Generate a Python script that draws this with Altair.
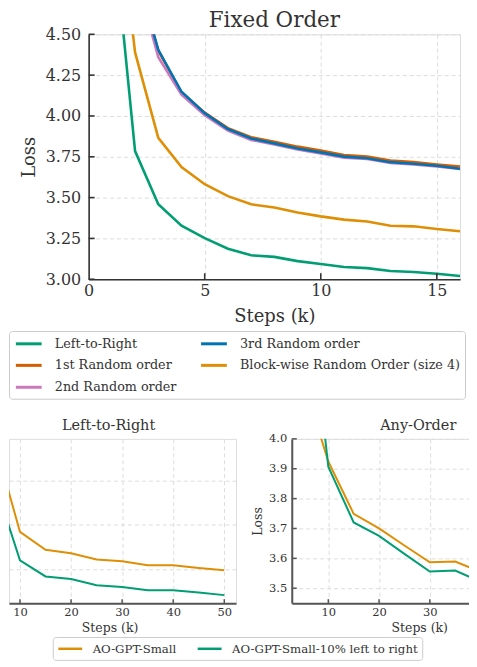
import altair as alt
import pandas as pd

FONT = "DejaVu Serif"
TXT = "#333333"

# ---------------- Top panel: Fixed Order ----------------
top_steps = list(range(1, 17))
top_series = ["Left-to-Right", "1st Random order", "2nd Random order",
              "3rd Random order", "Block-wise Random Order (size 4)"]
top_colors = ["#029E73", "#D55E00", "#CC78BC", "#0173B2", "#DE8F05"]
loss_l2r = [5.22, 3.785, 3.459, 3.328, 3.252, 3.187, 3.147, 3.137, 3.111, 3.093,
            3.075, 3.068, 3.050, 3.044, 3.034, 3.020]
loss_r1 = [6.0, 4.90, 4.400, 4.145, 4.020, 3.925, 3.870, 3.842, 3.812, 3.789,
           3.761, 3.751, 3.727, 3.717, 3.703, 3.690]
loss_r2 = [6.0, 4.88, 4.360, 4.130, 4.005, 3.910, 3.853, 3.826, 3.795, 3.770,
           3.745, 3.736, 3.712, 3.703, 3.690, 3.675]
loss_r3 = [6.0, 4.90, 4.405, 4.148, 4.017, 3.920, 3.862, 3.832, 3.801, 3.777,
           3.751, 3.741, 3.717, 3.707, 3.695, 3.677]
loss_block = [5.62, 4.389, 3.866, 3.687, 3.582, 3.509, 3.459, 3.439, 3.409, 3.385,
              3.365, 3.354, 3.328, 3.324, 3.308, 3.294]
top_loss = [loss_l2r, loss_r1, loss_r2, loss_r3, loss_block]
top_xticks = [0, 5, 10, 15]
top_yticks = [3.0, 3.25, 3.5, 3.75, 4.0, 4.25, 4.5]

# ---------------- Bottom panels ----------------
bot_series = ["AO-GPT-Small", "AO-GPT-Small-10% left to right"]
bot_colors = ["#DE8F05", "#029E73"]
ltr_steps = [5, 10, 15, 20, 25, 30, 35, 40, 45, 50]
ltr_small = [3.489, 3.284, 3.244, 3.236, 3.222, 3.218, 3.209, 3.209, 3.203, 3.198]
ltr_small10 = [3.398, 3.220, 3.184, 3.178, 3.164, 3.160, 3.153, 3.153, 3.148, 3.142]
any_steps = [5, 10, 15, 20, 25, 30, 35, 40]
any_small = [4.20, 3.924, 3.749, 3.700, 3.643, 3.587, 3.589, 3.555]
any_small10 = [4.68, 3.907, 3.720, 3.675, 3.615, 3.556, 3.559, 3.522]
ltr_xticks = [10, 20, 30, 40, 50]
ltr_yticks = [3.2, 3.3, 3.4]
any_xticks = [10, 20, 30]
any_yticks = [3.5, 3.6, 3.7, 3.8, 3.9, 4.0]

# ---------------- data frames ----------------
rows = []
for name, vals in zip(top_series, top_loss):
    for s, v in zip(top_steps, vals):
        rows.append({"series": name, "step": s, "loss": v})
df_top = pd.DataFrame(rows)


def long_df(steps, a, b):
    r = []
    for name, vals in zip(bot_series, [a, b]):
        for s, v in zip(steps, vals):
            r.append({"model": name, "step": s, "loss": v})
    return pd.DataFrame(r)


df_ltr = long_df(ltr_steps, ltr_small, ltr_small10)
df_any = long_df(any_steps, any_small, any_small10)

# ---------------- top chart ----------------
tx_scale = alt.Scale(domain=[0, 16], nice=False, zero=False)
ty_scale = alt.Scale(domain=[3.0, 4.5], nice=False, zero=False)
grid_kw = dict(grid=True, gridColor="#dcdcdc", gridDash=[4, 3], gridWidth=1)

top_x_axis = alt.Axis(values=top_xticks, title="Steps (k)", labelFont=FONT,
                      labelFontSize=16, labelColor=TXT, labelPadding=3,
                      labelFlush=False, titleFont=FONT, titleFontSize=18,
                      titleFontWeight="normal", titleColor=TXT, titlePadding=9,
                      domainColor=TXT, domainWidth=1.6, ticks=False, tickSize=0,
                      **grid_kw)
top_y_axis = alt.Axis(values=top_yticks, format=".2f", title="Loss", labelFont=FONT,
                      labelFontSize=16, labelColor=TXT, labelPadding=8,
                      titleFont=FONT, titleFontSize=18, titleFontWeight="normal",
                      titleColor=TXT, titlePadding=7, domainColor=TXT,
                      domainWidth=1.6, ticks=False, tickSize=0, **grid_kw)

TOP_W, TOP_H = 373, 246

top_lines = alt.Chart(df_top).mark_line(strokeWidth=2.6, clip=True).encode(
    x=alt.X("step:Q", scale=tx_scale, axis=top_x_axis),
    y=alt.Y("loss:Q", scale=ty_scale, axis=top_y_axis),
    color=alt.Color("series:N", sort=None,
                    scale=alt.Scale(domain=top_series, range=top_colors),
                    legend=alt.Legend(title=None, orient="none", legendX=-80,
                                      legendY=298, columns=2,
                                      symbolType="M-0.8,0L2.9,0",
                                      symbolSize=196, symbolStrokeWidth=3,
                                      labelFont=FONT, labelFontSize=12.8,
                                      labelColor=TXT, labelOffset=25,
                                      rowPadding=6, columnPadding=17, padding=4,
                                      strokeColor="#cccccc", cornerRadius=3,
                                      fillColor="white", labelLimit=400)),
    detail="series:N",
)
top_yt = alt.Chart(pd.DataFrame({"loss": top_yticks})).mark_rule(
    color=TXT, strokeWidth=1.6).encode(
    y=alt.Y("loss:Q", scale=ty_scale, axis=top_y_axis),
    x=alt.value(0), x2=alt.value(6))
top_xt = alt.Chart(pd.DataFrame({"step": top_xticks[1:]})).mark_rule(
    color=TXT, strokeWidth=1.6).encode(
    x=alt.X("step:Q", scale=tx_scale, axis=top_x_axis),
    y=alt.value(TOP_H), y2=alt.value(TOP_H - 6))

top = alt.layer(top_lines, top_yt, top_xt).properties(
    width=TOP_W, height=TOP_H,
    title=alt.Title("Fixed Order", font=FONT, fontSize=21.5, fontWeight="normal",
                    color=TXT, offset=0, dy=5.2, anchor="middle"))

# invisible spacer so the top plot starts 80px right of the bottom-left panel
spacer = alt.Chart(pd.DataFrame({"d": [0]})).mark_point(
    opacity=0, size=0, strokeWidth=0).encode(
    x=alt.value(0), y=alt.value(0)).properties(
    width=80, height=1, view=alt.ViewBackground(stroke=None, fill=None))

top_row = alt.hconcat(spacer, top, spacing=0, bounds="flush").resolve_scale(
    color="independent")

# ---------------- bottom panels ----------------
BOT_H = 165
AX2 = "#555555"


def bot_x_axis(vals, title_x):
    return alt.Axis(values=vals, title="Steps (k)", labelFont=FONT,
                    labelFontSize=11.5, labelColor=TXT, labelPadding=3,
                    labelFlush=False, titleFont=FONT, titleFontSize=12.5,
                    titleFontWeight="normal", titleColor=TXT, titlePadding=4,
                    titleX=title_x, titleAlign="center",
                    domainColor=AX2, domainWidth=2, ticks=False, tickSize=0,
                    grid=True, gridColor="#dddddd", gridDash=[4, 3], gridWidth=1)


# left panel (Left-to-Right)
LW = 228
lx_scale = alt.Scale(domain=[7.85, 52.3], nice=False, zero=False)
ly_scale = alt.Scale(domain=[3.124, 3.493], nice=False, zero=False)
lx_axis = bot_x_axis(ltr_xticks, 101)
ly_axis = alt.Axis(values=ltr_yticks, labels=False, ticks=False, tickSize=0,
                   domain=False, title=None, grid=True, gridColor="#dddddd",
                   gridDash=[4, 3], gridWidth=1)
bot_legend = alt.Legend(title=None, orient="none", legendX=44, legendY=199,
                        direction="horizontal", symbolType="M-1,0L3,0",
                        symbolSize=144, symbolStrokeWidth=2.5, labelFont=FONT,
                        labelFontSize=11.8, labelColor=TXT, labelOffset=21,
                        columnPadding=15, padding=4, strokeColor="#cccccc",
                        cornerRadius=3, fillColor="white", labelLimit=400)
left_lines = alt.Chart(df_ltr).mark_line(strokeWidth=2, clip=True).encode(
    x=alt.X("step:Q", scale=lx_scale, axis=lx_axis),
    y=alt.Y("loss:Q", scale=ly_scale, axis=ly_axis),
    color=alt.Color("model:N", sort=None,
                    scale=alt.Scale(domain=bot_series, range=bot_colors),
                    legend=bot_legend),
    detail="model:N",
)
left_xt = alt.Chart(pd.DataFrame({"step": ltr_xticks})).mark_rule(
    color=AX2, strokeWidth=1.5).encode(
    x=alt.X("step:Q", scale=lx_scale, axis=lx_axis),
    y=alt.value(BOT_H), y2=alt.value(BOT_H - 4))
left = alt.layer(left_lines, left_xt).properties(
    width=LW, height=BOT_H,
    title=alt.Title("Left-to-Right", font=FONT, fontSize=14.5, fontWeight="normal",
                    color=TXT, offset=5, anchor="middle", dx=-14))

# right panel (Any-Order)
RW = 185
rx_scale = alt.Scale(domain=[2.8, 39.1], nice=False, zero=False)
ry_scale = alt.Scale(domain=[3.45, 4.0], nice=False, zero=False)
rx_axis = bot_x_axis(any_xticks, 128)
ry_axis = alt.Axis(values=any_yticks, format=".1f", title="Loss", labelFont=FONT,
                   labelFontSize=11.5, labelColor=TXT, labelPadding=5,
                   titleFont=FONT, titleFontSize=12.5, titleFontWeight="normal",
                   titleColor=TXT, titlePadding=4, domainColor=AX2, domainWidth=2,
                   ticks=False, tickSize=0, grid=True, gridColor="#dddddd",
                   gridDash=[4, 3], gridWidth=1)
right_lines = alt.Chart(df_any).mark_line(strokeWidth=2, clip=True).encode(
    x=alt.X("step:Q", scale=rx_scale, axis=rx_axis),
    y=alt.Y("loss:Q", scale=ry_scale, axis=ry_axis),
    color=alt.Color("model:N", sort=None,
                    scale=alt.Scale(domain=bot_series, range=bot_colors),
                    legend=None),
    detail="model:N",
)
right_xt = alt.Chart(pd.DataFrame({"step": any_xticks})).mark_rule(
    color=AX2, strokeWidth=1.5).encode(
    x=alt.X("step:Q", scale=rx_scale, axis=rx_axis),
    y=alt.value(BOT_H), y2=alt.value(BOT_H - 4))
right_yt = alt.Chart(pd.DataFrame({"loss": any_yticks})).mark_rule(
    color=AX2, strokeWidth=1.5).encode(
    y=alt.Y("loss:Q", scale=ry_scale, axis=ry_axis),
    x=alt.value(0), x2=alt.value(5))
right = alt.layer(right_lines, right_xt, right_yt).properties(
    width=RW, height=BOT_H,
    title=alt.Title("Any-Order", font=FONT, fontSize=14.5, fontWeight="normal",
                    color=TXT, offset=5, dy=6, anchor="middle", dx=34.5))

bottom = alt.hconcat(left, right, spacing=56, bounds="flush").resolve_scale(
    color="independent")

chart = alt.vconcat(top_row, bottom, spacing=18.3).resolve_scale(
    color="independent").properties(
    padding={"left": 0, "top": 0, "right": -8, "bottom": 0}
).configure_view(stroke=None).configure(background="white")

chart.save("out.html", embed_options={"renderer": "svg", "actions": False})
